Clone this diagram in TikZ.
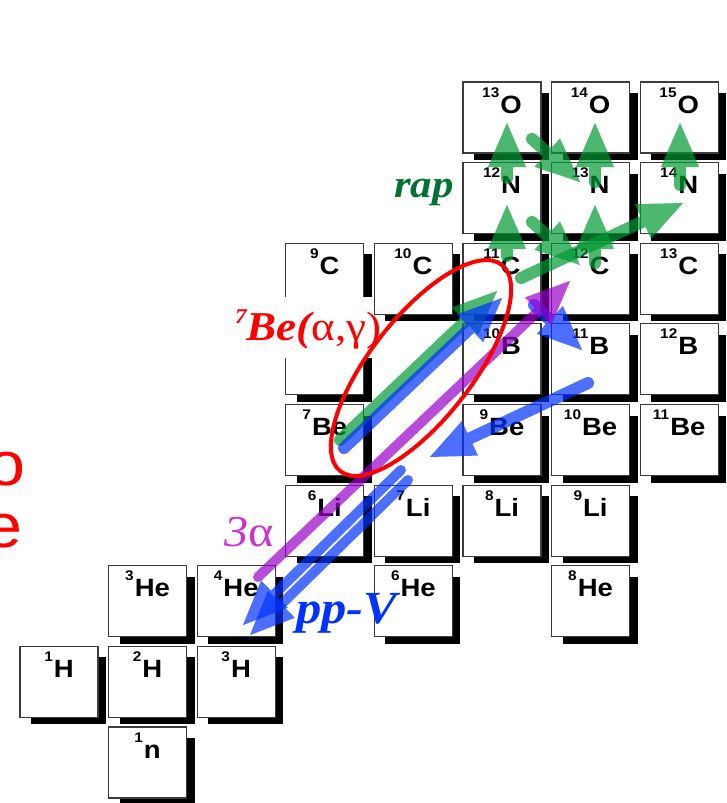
\documentclass[tikz,border=0pt]{standalone}
\usepackage{fontspec}
\setmainfont[FakeStretch=1.1]{Liberation Serif}
\newfontfamily\boxfont[FakeStretch=1.1]{Liberation Sans}
\usetikzlibrary{arrows.meta}
\definecolor{grn}{RGB}{0,153,51}
\definecolor{blu}{RGB}{0,50,255}
\definecolor{mag}{RGB}{153,0,204}
\definecolor{rapgreen}{RGB}{0,115,50}
\definecolor{alphamag}{RGB}{204,51,204}
\definecolor{ppblue}{RGB}{0,51,255}
\definecolor{boxline}{RGB}{60,60,60}
\newcommand{\nucl}[2]{\raisebox{16pt}{\boxfont\bfseries\fontsize{14}{14}\selectfont #1}\hspace{1pt}{\boxfont\bfseries\fontsize{25}{25}\selectfont #2}}
\newcommand{\nucbox}[5]{%
  \pgfmathsetmacro{\bx}{20+88.6*#2}%
  \pgfmathsetmacro{\by}{82+80.625*#3}%
  \fill[black] (\bx+11,\by+11) rectangle (\bx+86,\by+78);
  \node[boxst] (#1) at (\bx+39,\by+35.5) {};
  \node[nuctext] (#1t) at (\bx+39,\by+31) {\nucl{#4}{#5}};
}
\newcommand{\fatarr}[3]{%
  \begin{scope}[transparency group, opacity=0.7]
    \draw[#1] (#2) -- (#3);
  \end{scope}}
\tikzset{
  boxst/.style={draw=boxline, fill=white, line width=1.2pt, minimum width=78pt, minimum height=71pt, inner sep=0pt},
  nuctext/.style={anchor=base, inner sep=0pt},
  fatarrow/.style={line width=12pt, line cap=round, -{Triangle[length=44pt,width=38pt,line width=0.01pt]}},
  garr/.style={fatarrow, draw=grn},
  barr/.style={fatarrow, draw=blu},
  marr/.style={fatarrow, draw=mag, line width=10pt},
  pparr/.style={fatarrow, draw=blu, line width=10pt},
}
\begin{document}
\begin{tikzpicture}[x=1pt,y=-1pt]
\useasboundingbox (0,0) rectangle (726,803);
% boxes
\nucbox{o13}{5}{0}{13}{O}
\nucbox{o14}{6}{0}{14}{O}
\nucbox{o15}{7}{0}{15}{O}
\nucbox{n12}{5}{1}{12}{N}
\nucbox{n13}{6}{1}{13}{N}
\nucbox{n14}{7}{1}{14}{N}
\nucbox{c9}{3}{2}{9}{C}
\nucbox{c10}{4}{2}{10}{C}
\nucbox{c11}{5}{2}{11}{C}
\nucbox{c12}{6}{2}{12}{C}
\nucbox{c13}{7}{2}{13}{C}
\nucbox{b8}{3}{3}{}{}
\nucbox{b10}{5}{3}{10}{B}
\nucbox{b11}{6}{3}{11}{B}
\nucbox{b12}{7}{3}{12}{B}
\nucbox{be7}{3}{4}{7}{Be}
\nucbox{be9}{5}{4}{9}{Be}
\nucbox{be10}{6}{4}{10}{Be}
\nucbox{be11}{7}{4}{11}{Be}
\nucbox{li6}{3}{5}{6}{Li}
\nucbox{li7}{4}{5}{7}{Li}
\nucbox{li8}{5}{5}{8}{Li}
\nucbox{li9}{6}{5}{9}{Li}
\nucbox{he3}{1}{6}{3}{He}
\nucbox{he4}{2}{6}{4}{He}
\nucbox{he6}{4}{6}{6}{He}
\nucbox{he8}{6}{6}{8}{He}
\nucbox{h1}{0}{7}{1}{H}
\nucbox{h2}{1}{7}{2}{H}
\nucbox{h3}{2}{7}{3}{H}
\nucbox{n1}{1}{8}{1}{n}
% label background and label
\node[fill=white, inner sep=0pt, minimum width=144pt, minimum height=61pt] (lbg) at (300,327.5) {};
\node[anchor=base west, inner sep=0pt, text=red] (belab) at (235,340)
  {\fontsize{41}{41}\selectfont\bfseries\itshape\raisebox{17pt}{\fontsize{21}{21}\selectfont 7}Be(\upshape\mdseries α,γ)};
% coordinates
\coordinate (g1s) at (340,440); \coordinate (g1e) at (497,291);
\coordinate (g2s) at (507,256); \coordinate (g2e) at (507,205);
\coordinate (g3s) at (507,178); \coordinate (g3e) at (507,123);
\coordinate (g4s) at (532,139); \coordinate (g4e) at (580,182);
\coordinate (g5s) at (595,182); \coordinate (g5e) at (595,123);
\coordinate (g6s) at (532,222); \coordinate (g6e) at (580,265);
\coordinate (g7s) at (595,263); \coordinate (g7e) at (595,205);
\coordinate (g8s) at (680,185); \coordinate (g8e) at (680,123);
\coordinate (g9s) at (521,278); \coordinate (g9e) at (683,203);
\coordinate (b1s) at (344,448); \coordinate (b1e) at (502,298);
\coordinate (b2s) at (534,305); \coordinate (b2e) at (582,350);
\coordinate (b3s) at (588,383); \coordinate (b3e) at (430,457);
\coordinate (b4s) at (401,470); \coordinate (b4e) at (243,625);
\coordinate (b5s) at (408,480); \coordinate (b5e) at (250,635);
\coordinate (m1s) at (258,577); \coordinate (m1e) at (570,281);
% green
\fatarr{garr}{g1s}{g1e}
\fatarr{garr}{g2s}{g2e}
\fatarr{garr}{g3s}{g3e}
\fatarr{garr}{g4s}{g4e}
\fatarr{garr}{g5s}{g5e}
\fatarr{garr}{g6s}{g6e}
\fatarr{garr}{g7s}{g7e}
\fatarr{garr}{g8s}{g8e}
\fatarr{garr}{g9s}{g9e}
% blue
\fatarr{barr}{b1s}{b1e}
\fatarr{barr}{b2s}{b2e}
\fatarr{barr}{b3s}{b3e}
\fatarr{pparr}{b4s}{b4e}
\fatarr{pparr}{b5s}{b5e}
% magenta
\fatarr{marr}{m1s}{m1e}
% ellipse
\coordinate (ec) at (421,368);
\draw[red, line width=4pt, rotate around={52:(ec)}] (ec) ellipse [x radius=131, y radius=51];
% labels
\node[anchor=base west, inner sep=0pt, text=rapgreen] (rap) at (394,197)
  {\fontsize{39}{39}\selectfont\bfseries\itshape rap};
\node[anchor=base west, inner sep=0pt, text=alphamag] (three) at (224,546)
  {\fontsize{44}{44}\selectfont\itshape 3\upshape α};
\node[anchor=base west, inner sep=0pt, text=ppblue] (pp) at (296,623)
  {\fontsize{46}{46}\selectfont\bfseries\itshape pp-V};
\node[anchor=base east, inner sep=0pt, text=red] (lo) at (26,485)
  {\boxfont\fontsize{62}{62}\selectfont o};
\node[anchor=base east, inner sep=0pt, text=red] (le) at (23,547)
  {\boxfont\fontsize{62}{62}\selectfont e};
\end{tikzpicture}
\end{document}
